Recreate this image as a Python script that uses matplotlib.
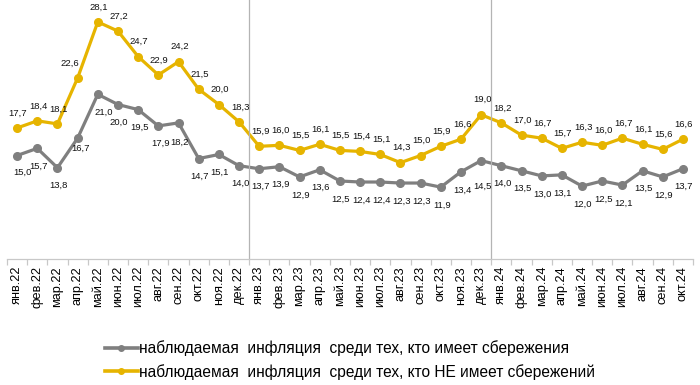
import matplotlib
matplotlib.use("Agg")
import matplotlib.pyplot as plt
from matplotlib.lines import Line2D

plt.rcParams['font.family'] = ['Liberation Sans', 'DejaVu Sans']

months = ["янв.22", "фев.22", "мар.22", "апр.22", "май.22", "июн.22", "июл.22", "авг.22",
          "сен.22", "окт.22", "ноя.22", "дек.22",
          "янв.23", "фев.23", "мар.23", "апр.23", "май.23", "июн.23", "июл.23", "авг.23",
          "сен.23", "окт.23", "ноя.23", "дек.23",
          "янв.24", "фев.24", "мар.24", "апр.24", "май.24", "июн.24", "июл.24", "авг.24",
          "сен.24", "окт.24"]

with_savings = [15.0, 15.7, 13.8, 16.7, 21.0, 20.0, 19.5, 17.9, 18.2, 14.7, 15.1, 14.0,
                13.7, 13.9, 12.9, 13.6, 12.5, 12.4, 12.4, 12.3, 12.3, 11.9, 13.4, 14.5,
                14.0, 13.5, 13.0, 13.1, 12.0, 12.5, 12.1, 13.5, 12.9, 13.7]

without_savings = [17.7, 18.4, 18.1, 22.6, 28.1, 27.2, 24.7, 22.9, 24.2, 21.5, 20.0, 18.3,
                   15.9, 16.0, 15.5, 16.1, 15.5, 15.4, 15.1, 14.3, 15.0, 15.9, 16.6, 19.0,
                   18.2, 17.0, 16.7, 15.7, 16.3, 16.0, 16.7, 16.1, 15.6, 16.6]

label_with = "наблюдаемая  инфляция  среди тех, кто имеет сбережения"
label_without = "наблюдаемая  инфляция  среди тех, кто НЕ имеет сбережений"

GRAY = "#7F7F7F"
GOLD = "#E6B400"

fig = plt.figure(figsize=(7.0, 3.85), dpi=100)
ax = fig.add_axes([7 / 700, 1 - 259 / 385, 686 / 700, 259 / 385])

x = list(range(len(months)))
ax.plot(x, with_savings, color=GRAY, lw=2.3, marker='o', ms=5.5, solid_capstyle='round')
ax.plot(x, without_savings, color=GOLD, lw=2.3, marker='o', ms=5.5, solid_capstyle='round')

# data labels (offsets in pixels)
gray_over = {0: (5, -17), 3: (3, -10), 4: (6, -18), 7: (2, -17), 8: (1, -19), 23: (1, -26)}
gold_over = {3: (-8, 15)}
for i, v in enumerate(with_savings):
    dx, dy = gray_over.get(i, (1, -18))
    ax.annotate(f"{v:.1f}".replace('.', ','), (i, v), xytext=(dx, dy),
                textcoords='offset pixels', ha='center', va='center', fontsize=6.8, color='#111111')
for i, v in enumerate(without_savings):
    dx, dy = gold_over.get(i, (1, 15))
    ax.annotate(f"{v:.1f}".replace('.', ','), (i, v), xytext=(dx, dy),
                textcoords='offset pixels', ha='center', va='center', fontsize=6.8, color='#111111')

# year separators
for b in (11.5, 23.5):
    ax.axvline(b, color='#B4B4B4', lw=0.9)

ax.set_xlim(-0.5, len(months) - 0.5)
ax.set_ylim(4.85, 30.25)
for s in ('top', 'right', 'left'):
    ax.spines[s].set_visible(False)
ax.spines['bottom'].set_color('#C8C8C8')
ax.spines['bottom'].set_linewidth(0.9)
ax.set_yticks([])
ax.set_xticks(x)
ax.set_xticklabels(months, rotation=90, fontsize=9.2)
ax.tick_params(axis='x', which='major', length=0, pad=5)
ax.set_xticks([i - 0.5 for i in range(len(months) + 1)], minor=True)
ax.tick_params(axis='x', which='minor', length=4, color='#C8C8C8', width=0.9)

handles = [Line2D([], [], color=GRAY, lw=2.6, marker='o', ms=4),
           Line2D([], [], color=GOLD, lw=2.6, marker='o', ms=4)]
fig.legend(handles, [label_with, label_without], loc='center', bbox_to_anchor=(0.5, 1 - 360 / 385),
           frameon=False, fontsize=11.2, handlelength=2.1, handletextpad=0.08, labelspacing=0.5,
           borderpad=0)

fig.savefig("out.png", dpi=100)
